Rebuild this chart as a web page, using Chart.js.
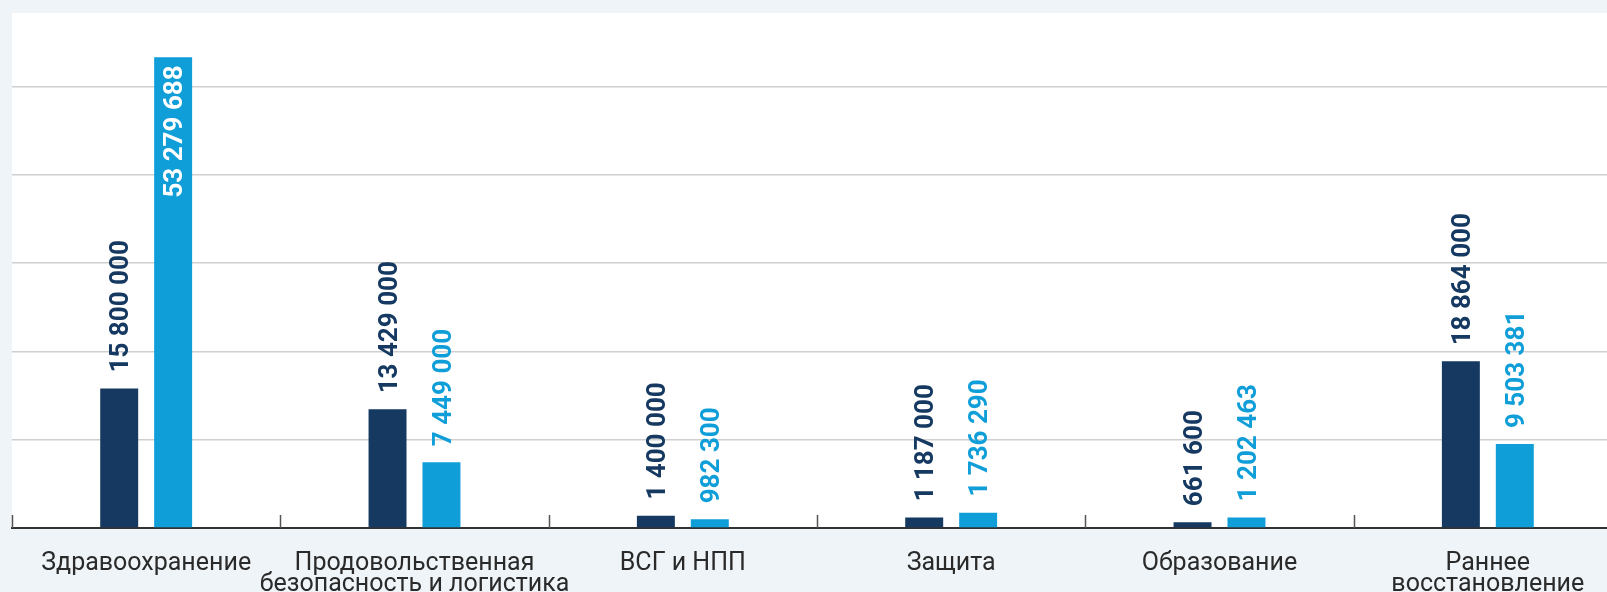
<!DOCTYPE html>
<html>
<head>
<meta charset="utf-8">
<script src="https://cdn.jsdelivr.net/npm/chart.js@4"></script>
<style>
  html, body { margin: 0; padding: 0; background: #eef4f7; overflow: hidden; }
  #wrap { width: 1640px; height: 592px; }
</style>
</head>
<body>
<div id="wrap"><canvas id="fundsChart" width="1640" height="592"></canvas></div>
<script>
const categories = [
  'Здравоохранение',
  ['Продовольственная', 'безопасность и логистика'],
  'ВСГ и НПП',
  'Защита',
  'Образование',
  ['Раннее', 'восстановление']
];
const seriesDark = [15800000, 13429000, 1400000, 1187000, 661600, 18864000];
const seriesLight = [53279688, 7449000, 982300, 1736290, 1202463, 9503381];
const yTicks = [0, 10000000, 20000000, 30000000, 40000000, 50000000];

const darkColor = '#153961';
const lightColor = '#109ed9';

// thousands with spaces: 15 800 000
const fmt = v => String(v).replace(/\B(?=(\d{3})+(?!\d))/g, ' ');

// white plot area behind everything
const plotBg = {
  id: 'plotBg',
  beforeDraw(chart) {
    const { ctx, chartArea } = chart;
    ctx.save();
    ctx.fillStyle = '#ffffff';
    ctx.fillRect(chartArea.left, chartArea.top, chartArea.right - chartArea.left, chartArea.bottom - chartArea.top);
    ctx.restore();
  }
};

// short tick marks between categories, pointing up into the plot
const catTicks = {
  id: 'catTicks',
  afterDraw(chart) {
    const { ctx, chartArea } = chart;
    const xs = chart.scales.x;
    const step = xs.getPixelForValue(1) - xs.getPixelForValue(0);
    ctx.save();
    ctx.strokeStyle = '#555555';
    ctx.lineWidth = 1.5;
    for (let i = 0; i <= categories.length; i++) {
      const x = Math.round(xs.getPixelForValue(0) - step / 2 + i * step) + 0.5;
      ctx.beginPath();
      ctx.moveTo(x, chartArea.bottom - 13);
      ctx.lineTo(x, chartArea.bottom);
      ctx.stroke();
    }
    ctx.restore();
  }
};

// rotated value labels over (or inside) the bars
const valueLabels = {
  id: 'valueLabels',
  afterDatasetsDraw(chart) {
    const { ctx, chartArea } = chart;
    ctx.save();
    ctx.font = 'bold 26px Roboto';
    const capH = 26 * 0.711;
    chart.data.datasets.forEach((ds, di) => {
      chart.getDatasetMeta(di).data.forEach((bar, i) => {
        const text = fmt(ds.data[i]);
        const w = ctx.measureText(text).width;
        const gap = 16;
        ctx.save();
        if (bar.y - gap - w < chartArea.top) {
          ctx.translate(bar.x, bar.y + 8);
          ctx.rotate(-Math.PI / 2);
          ctx.textAlign = 'right';
          ctx.fillStyle = '#ffffff';
        } else {
          ctx.translate(bar.x, bar.y - gap);
          ctx.rotate(-Math.PI / 2);
          ctx.textAlign = 'left';
          ctx.fillStyle = ds.backgroundColor;
        }
        ctx.textBaseline = 'alphabetic';
        ctx.fillText(text, 0, capH / 2);
        ctx.restore();
      });
    });
    ctx.restore();
  }
};

new Chart(document.getElementById('fundsChart'), {
  type: 'bar',
  data: {
    labels: categories,
    datasets: [{
      label: 'Ряд 1',
      data: seriesDark,
      backgroundColor: darkColor,
      categoryPercentage: 0.402,
      barPercentage: 0.704
    }, {
      label: 'Ряд 2',
      data: seriesLight,
      backgroundColor: lightColor,
      categoryPercentage: 0.402,
      barPercentage: 0.704
    }]
  },
  options: {
    responsive: false,
    animation: false,
    layout: { padding: { left: 12, top: 13, right: 18, bottom: 0 } },
    plugins: {
      legend: { display: false },
      tooltip: { enabled: false }
    },
    scales: {
      x: {
        grid: { display: false, drawTicks: false },
        border: { display: true, color: '#333333', width: 2 },
        ticks: {
          color: '#2a2a2a',
          padding: 25,
          maxRotation: 0,
          autoSkip: false,
          font: { family: 'Roboto', size: 25, lineHeight: 0.84 }
        },
        afterFit: s => { s.height = 64; }
      },
      y: {
        min: 0,
        max: 58300000,
        ticks: { display: false, stepSize: 10000000 },
        afterBuildTicks: s => { s.ticks = yTicks.map(v => ({ value: v })); },
        grid: { color: '#cfcfcf', lineWidth: 1.5, drawTicks: false },
        border: { display: false },
        afterFit: s => { s.width = 0; }
      }
    }
  },
  plugins: [plotBg, catTicks, valueLabels]
});
</script>
</body>
</html>
